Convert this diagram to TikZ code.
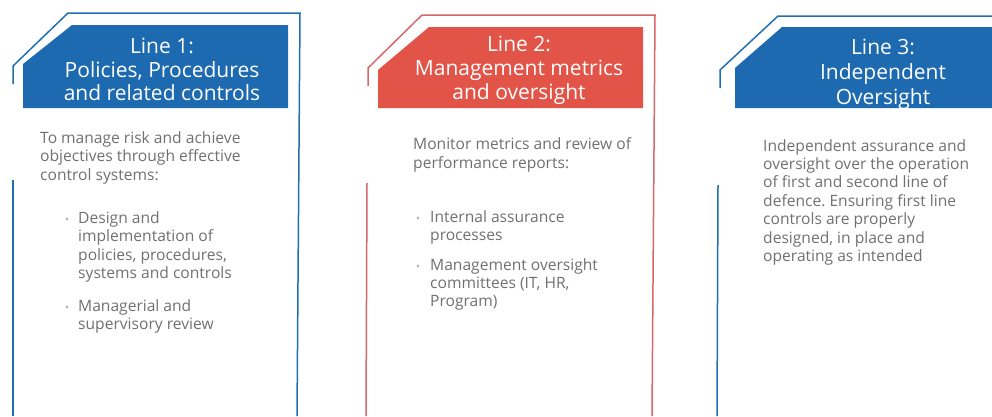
\documentclass[tikz,border=0pt]{standalone}
\usepackage{fontspec}
\setmainfont{Open Sans}
\frenchspacing
\definecolor{lineblue}{RGB}{32,110,180}
\definecolor{fillblue}{RGB}{30,106,176}
\definecolor{fillred}{RGB}{226,84,72}
\definecolor{linered}{RGB}{214,104,108}
\definecolor{bodygray}{RGB}{112,112,112}
\tikzset{
  headtext/.style={text=white, align=center, inner sep=0pt, font=\fontsize{21}{23.8}\selectfont},
  bodytext/.style={text=bodygray, align=left, inner sep=0pt, anchor=north west, font=\fontsize{15.6}{18.4}\selectfont},
  bulletdot/.style={text=bodygray!55, inner sep=0pt, anchor=base west, font=\fontsize{11}{12}\selectfont},
  outline/.style={line width=1.5pt, line join=miter}
}
\begin{document}
\begin{tikzpicture}[x=1pt,y=-1pt]
\useasboundingbox (0,0) rectangle (992,416);
% ---------- Panel 1 ----------
\draw[outline, lineblue] (13,84) -- (13,66) -- (68,13) -- (300,13) -- (297,416);
\draw[outline, lineblue] (13,180) -- (13,416);
\fill[fillblue] (23,108) -- (23,64) -- (72,25) -- (288,25) -- (288,108) -- cycle;
\node[headtext] (h1) at (162,69.5) {Line 1:\\Policies, Procedures\\and related controls};
\node[bodytext] (b1) at (40,131.5) {To manage risk and achieve\\objectives through effective\\control systems:};
\node[bulletdot] (d11) at (65,223) {•};
\node[bodytext, font=\fontsize{15.6}{18.6}\selectfont] (i11) at (78,211) {Design and\\implementation of\\policies, procedures,\\systems and controls};
\node[bulletdot] (d12) at (65,311) {•};
\node[bodytext] (i12) at (78,299) {Managerial and\\supervisory review};
% ---------- Panel 2 ----------
\draw[outline, linered] (368,86) -- (368,68) -- (422,15) -- (655,15) -- (652,416);
\draw[outline, linered] (367,183) -- (366,416);
\fill[fillred] (378,108) -- (378,70) -- (429,27) -- (643,27) -- (643,108) -- cycle;
\node[headtext] (h2) at (519,70.5) {Line 2:\\Management metrics\\and oversight};
\node[bodytext] (b2) at (413,137.5) {Monitor metrics and review of\\performance reports:};
\node[bulletdot] (d21) at (416,222) {•};
\node[bodytext] (i21) at (430,210) {Internal assurance\\processes};
\node[bulletdot] (d22) at (416,270) {•};
\node[bodytext] (i22) at (430,258) {Management oversight\\committees (IT, HR,\\Program)};
% ---------- Panel 3 ----------
\draw[outline, lineblue] (720,88) -- (720,70) -- (778,16) -- (992,16);
\draw[outline, lineblue] (718,185) -- (717,416);
\fill[fillblue] (735,108) -- (735,68) -- (782,27) -- (992,27) -- (992,108) -- cycle;
\node[headtext, font=\fontsize{21}{25}\selectfont] (h3) at (883,74) {Line 3:\\Independent\\Oversight};
\node[bodytext] (b3) at (763,139) {Independent assurance and\\oversight over the operation\\of first and second line of\\defence. Ensuring first line\\controls are properly\\designed, in place and\\operating as intended};
\end{tikzpicture}
\end{document}
